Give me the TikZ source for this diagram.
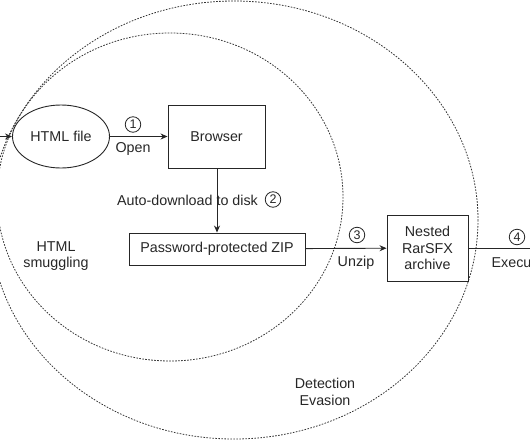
\documentclass[tikz,border=0pt]{standalone}
\usepackage{fontspec}
\setmainfont{Liberation Sans}
\usetikzlibrary{arrows.meta,shapes.geometric}
\definecolor{ink}{HTML}{262626}
\definecolor{dotc}{HTML}{333333}
\tikzset{
  zone/.style={draw=dotc,line width=0.8pt,dash pattern=on 1.6pt off 1.4pt},
  box/.style={draw=ink,line width=0.9pt,rectangle,inner sep=0pt,align=center,text=ink},
  oval/.style={draw=ink,line width=0.9pt,ellipse,inner sep=0pt,text=ink},
  conn/.style={draw=ink,line width=0.9pt},
  arr/.style={conn,-{Stealth[length=7pt,width=6pt]}},
  lbl/.style={text=ink,inner sep=0pt,align=center},
  num/.style={draw=ink,line width=0.8pt,circle,minimum size=15.5pt,inner sep=0pt,text=ink,font=\fontsize{12.5}{13}\selectfont},
}
\begin{document}
\begin{tikzpicture}[x=1pt,y=-1pt,font=\fontsize{14.3}{16.5}\selectfont]
\useasboundingbox (0,0) rectangle (530,442);
\clip (0,0) rectangle (530,442);
% zones
\draw[zone] (234,220) ellipse [x radius=244, y radius=219];
\draw[zone] (170,197) ellipse [x radius=173, y radius=164];
% nodes
\node[oval,minimum width=97pt,minimum height=63pt] (html) at (61,136.5) {HTML file};
\node[box,minimum width=97pt,minimum height=63pt] (browser) at (216.5,136.5) {Browser};
\node[box,minimum width=176pt,minimum height=32pt] (zip) at (217,249) {Password-protected ZIP};
\node[box,minimum width=81pt,minimum height=66pt] (rar) at (427.5,248) {Nested\\RarSFX\\archive};
\coordinate (lstart) at (-20,136.5);
\coordinate (rend) at (560,248);
% connectors
\draw[arr] (lstart) -- (html.west);
\draw[arr] (html) -- (browser);
\draw[arr] (browser.south -| zip.north) -- (zip.north);
\draw[arr] (zip) -- (rar);
\draw[arr] (rar) -- (rend);
% labels
\node[num] (n1) at (133,124.5) {1};
\node[lbl] (l1) at (133,148.5) {Open};
\node[lbl,anchor=west] (l2) at (117,200) {Auto-download to disk};
\node[num] (n2) at (273,199.5) {2};
\node[num] (n3) at (357,235) {3};
\node[lbl] (l3) at (356,262.5) {Unzip};
\node[num] (n4) at (517,237) {4};
\node[lbl] (l4) at (517.5,262.5) {Execute};
\node[lbl] (z1) at (56,256) {HTML\\smuggling};
\node[lbl] (z2) at (325,392) {Detection\\Evasion};
\end{tikzpicture}
\end{document}
